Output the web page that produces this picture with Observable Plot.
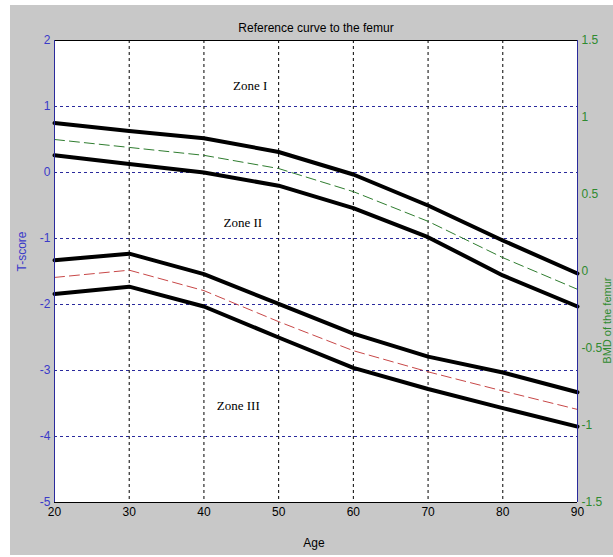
<!DOCTYPE html>
<html><head><meta charset="utf-8">
<script src="https://cdn.jsdelivr.net/npm/d3@7"></script>
<script src="https://cdn.jsdelivr.net/npm/@observablehq/plot@0.6"></script>
<style>
html,body{margin:0;padding:0;background:#ffffff;}
#chart{padding:5px 0 0 10px;line-height:0;}
</style></head><body><div id="chart"></div>
<script>
// ---- data (T-score units) ----
const ages = [20, 30, 40, 50, 60, 70, 80, 90];
const upperBandTop    = [0.75, 0.63, 0.52, 0.31, -0.03, -0.50, -1.03, -1.53];
const upperBandBottom = [0.26, 0.13, 0.00, -0.20, -0.54, -0.98, -1.56, -2.03];
const upperBandMean   = [0.50, 0.38, 0.26, 0.06, -0.29, -0.74, -1.29, -1.77];
const lowerBandTop    = [-1.33, -1.23, -1.54, -1.99, -2.44, -2.79, -3.03, -3.33];
const lowerBandBottom = [-1.84, -1.73, -2.03, -2.50, -2.96, -3.28, -3.57, -3.85];
const lowerBandMean   = [-1.59, -1.48, -1.79, -2.26, -2.70, -3.02, -3.31, -3.59];

const xTicks = [20, 30, 40, 50, 60, 70, 80, 90];
const tScoreTicks = [-5, -4, -3, -2, -1, 0, 1, 2];
const bmdTicks = [-1.5, -1, -0.5, 0, 0.5, 1, 1.5];
const tDomain = [-5, 2];
const bmdDomain = [-1.5, 1.5];

const zoneNames = ["Zone I", "Zone II", "Zone III"];
const zoneAge = [46.2, 45.2, 44.6];
const zoneT = [1.32, -0.77, -3.53];

const titleText = "Reference curve to the femur";
const xLabel = "Age";
const yLabelLeft = "T-score";
const yLabelRight = "BMD of the femur";

// ---- build ----
const series = (vals) => ages.map((a, i) => ({age: a, t: vals[i]}));
const bmdToT = d3.scaleLinear(bmdDomain, tDomain);
const tToBmd = bmdToT.copy().domain(tDomain).range(bmdDomain);
const zones = zoneNames.map((n, i) => ({name: n, age: zoneAge[i], t: zoneT[i]}));
const innerX = xTicks.filter(d => d > xTicks[0] && d < xTicks[xTicks.length - 1]);
const innerY = tScoreTicks.filter(d => d > tDomain[0] && d < tDomain[1]);

const blueAxis = "#2a2a9c";
const blueText = "#3a3ac8";
const greenText = "#2f8a2f";

const chart = Plot.plot({
  width: 603,
  height: 550,
  marginLeft: 44,
  marginTop: 35,
  marginRight: 36,
  marginBottom: 53,
  style: {background: "#c8c8c8", fontFamily: "'Liberation Sans', Arial, sans-serif", fontSize: "12px", overflow: "visible"},
  x: {domain: [20, 90], label: null},
  y: {domain: tDomain, label: null},
  marks: [
    Plot.frame({fill: "white", stroke: "none"}),
    Plot.ruleY(innerY, {stroke: blueAxis, strokeDasharray: "3,3", strokeWidth: 1}),
    Plot.ruleX(innerX, {stroke: "black", strokeDasharray: "3,3", strokeWidth: 1}),
    Plot.line(series(upperBandMean), {x: "age", y: "t", stroke: "#2f7d2f", strokeWidth: 1, strokeDasharray: "10,5"}),
    Plot.line(series(lowerBandMean), {x: "age", y: "t", stroke: "#c84848", strokeWidth: 1, strokeDasharray: "10,5"}),
    Plot.line(series(upperBandTop), {x: "age", y: "t", stroke: "black", strokeWidth: 4}),
    Plot.line(series(upperBandBottom), {x: "age", y: "t", stroke: "black", strokeWidth: 4}),
    Plot.line(series(lowerBandTop), {x: "age", y: "t", stroke: "black", strokeWidth: 4}),
    Plot.line(series(lowerBandBottom), {x: "age", y: "t", stroke: "black", strokeWidth: 4}),
    Plot.ruleY([tDomain[1]], {stroke: "black", strokeWidth: 1}),
    Plot.ruleY([tDomain[0]], {stroke: "black", strokeWidth: 1}),
    Plot.ruleX([20], {stroke: blueAxis, strokeWidth: 1}),
    Plot.ruleX([90], {stroke: blueAxis, strokeWidth: 1}),
    Plot.axisX({ticks: xTicks, tickSize: 0, tickPadding: 5, tickFormat: d => String(d), fill: "black", label: null}),
    Plot.axisY({anchor: "left", ticks: tScoreTicks, tickSize: 0, tickPadding: 4, tickFormat: d => String(d), fill: blueText, label: null}),
    Plot.axisY({anchor: "right", ticks: bmdTicks.map(bmdToT), tickSize: 0, tickPadding: 4,
      tickFormat: d => String(Math.round(tToBmd(d) * 10) / 10), fill: greenText, label: null}),
    Plot.text(zones, {x: "age", y: "t", text: "name", fontFamily: "'Liberation Serif', 'Times New Roman', serif", fontSize: 13, fill: "black"}),
    Plot.text([titleText], {frameAnchor: "top", dy: -17, fontSize: 12, fill: "black"}),
    Plot.text([xLabel], {frameAnchor: "bottom", dy: 44, dx: -2, fontSize: 12, fill: "black"}),
    Plot.text([yLabelLeft], {frameAnchor: "left", dx: -32, rotate: -90, fontSize: 12, fill: blueText}),
    Plot.text([yLabelRight], {frameAnchor: "right", dx: 30, dy: 6, rotate: -90, fontSize: 11, fill: greenText})
  ]
});
document.getElementById("chart").append(chart);
</script>
</body></html>
